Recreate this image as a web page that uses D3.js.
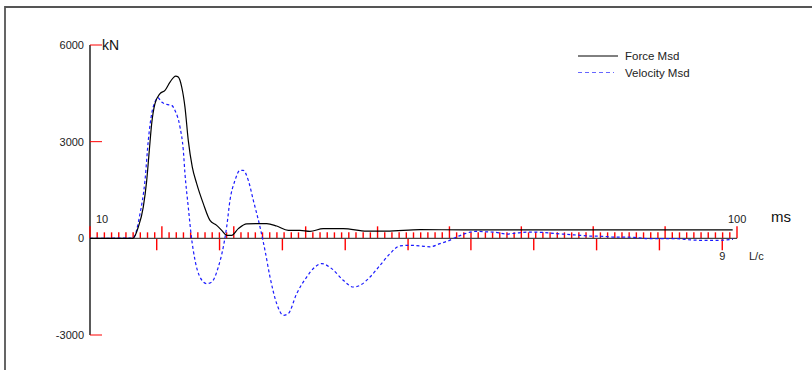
<!DOCTYPE html>
<html>
<head>
<meta charset="utf-8">
<script src="https://cdn.jsdelivr.net/npm/d3@7"></script>
<style>
	body { margin: 0; background: #fff; }
	svg { display: block; font-family: Arial, "Liberation Sans", sans-serif; }
	.lbl { font-size: 11px; fill: #222; }
</style>
</head>
<body>
<svg id="chart" width="812" height="370"></svg>
<script>
// time in ms, force / velocity in kN (velocity scaled to force units)
let force_t = [10, 15.98, 16.72, 17.41, 17.89, 18.25, 18.58, 19.04, 19.74, 20.43, 21.13, 21.92, 22.28, 22.76,
	23.21, 23.67, 24.23, 24.84, 25.76, 26.69, 27.62, 28.32, 29.02, 29.71, 30.63, 31.8, 34.58, 35.97,
	37.58, 39.21, 40.6, 42.45, 45.23, 48.49, 51.27, 55.9, 62, 70, 80, 90, 99.4];
let force_v = [0, 0, 351, 971, 1800, 2730, 3559, 4179, 4490, 4592, 4850, 5036, 5005, 4694,
	4074, 3041, 2212, 1697, 1077, 558, 403, 248, 93, 93, 301, 450, 456, 382,
	248, 248, 217, 301, 301, 226, 226, 270, 262, 265, 262, 260, 262];

let vel_t = [10, 15.98, 16.96, 17.65, 18.11, 18.58, 19.04, 19.42, 19.97, 20.67, 21.36, 21.82, 22.52, 22.98,
	23.21, 23.67, 24.1, 24.61, 25.3, 26.23, 26.93, 27.85, 28.54, 29.01, 29.47, 30.17, 30.87, 31.32,
	32.02, 32.72, 33.65, 34.34, 35.04, 35.97, 36.89, 37.58, 38.75, 40.14, 41.3, 42.23, 43.62, 45.23,
	46.63, 47.56, 48.95, 50.34, 51.73, 53.12, 54.51, 55.9, 57.3, 58.69, 59.84, 61.01, 62.16, 63.79,
	65.08, 66.48, 67.96, 69.26, 71.2, 72.73, 74.92, 76.31, 78.16, 79.55, 81.36, 82.75, 84.42, 86.05,
	87.9, 89.71, 91.61, 93, 95.31, 97.17, 99.02, 99.44];
let vel_v = [0, 10, 766, 1800, 3041, 3869, 4229, 4366, 4229, 4158, 4127, 3971, 3453, 2730,
	2007, 971, 50, -683, -1201, -1406, -1356, -890, -270, 351, 1179, 1800, 2110, 2110,
	1800, 1179, 351, -372, -1201, -2026, -2389, -2336, -1716, -1201, -890, -785, -940, -1303,
	-1511, -1458, -1201, -838, -475, -233, -217, -233, -264, -164, -78, 40, 146, 217,
	202, 186, 133, 164, 195, 186, 146, 124, 93, 71, 62, 40, 40, 22,
	-9, -9, -9, -40, -62, -62, -40, -31];

let y_ticks = [6000, 3000, 0, -3000];
let ms_labels = [10, 100];
let lc_start = 19.28, lc_end = 97.95, lc_count = 9;
let legend_names = ['Force Msd', 'Velocity Msd'];

let svg = d3.select('#chart');

let x = d3.scaleLinear().domain([10, 100]).range([90, 737]);
let y = d3.scaleLinear().domain([-3000, 6000]).range([335, 45]);
let lc = d3.scaleLinear().domain([0, lc_count]).range([x(lc_start), x(lc_end)]);

// frame (top + left)
svg.append('path')
	.attr('d', 'M5,370 V7 H812')
	.attr('fill', 'none')
	.attr('stroke', '#555')
	.attr('stroke-width', 1.8);

// y axis
svg.append('line')
	.attr('x1', x(10)).attr('x2', x(10))
	.attr('y1', y(-3000)).attr('y2', y(6000))
	.attr('stroke', '#000')
	.attr('stroke-width', 1.3);

svg.selectAll('.ytick').data(y_ticks.filter(d => d != 0))
	.enter().append('line')
	.attr('class', 'ytick')
	.attr('x1', x(10)).attr('x2', x(10) + 12)
	.attr('y1', d => y(d)).attr('y2', d => y(d))
	.attr('stroke', '#f00')
	.attr('stroke-width', 1);

svg.selectAll('.ylbl').data(y_ticks)
	.enter().append('text')
	.attr('class', 'lbl')
	.attr('x', 84)
	.attr('y', d => y(d) + 4)
	.attr('text-anchor', 'end')
	.text(d => d);

svg.append('text')
	.attr('x', 102).attr('y', 50)
	.style('font-size', '14px')
	.style('fill', '#111')
	.text('kN');

// time ticks (1 ms minor, 10 ms major) pointing up
let ms_ticks = d3.range(10, 101);
svg.selectAll('.xtick').data(ms_ticks)
	.enter().append('line')
	.attr('class', 'xtick')
	.attr('x1', d => x(d)).attr('x2', d => x(d))
	.attr('y1', y(0))
	.attr('y2', d => y(0) - (d % 10 == 0 ? 12 : 6))
	.attr('stroke', '#f00')
	.attr('stroke-width', 1.4);

// L/c ticks pointing down
svg.selectAll('.lctick').data(d3.range(0, lc_count + 1))
	.enter().append('line')
	.attr('class', 'lctick')
	.attr('x1', d => lc(d)).attr('x2', d => lc(d))
	.attr('y1', y(0)).attr('y2', y(0) + 12)
	.attr('stroke', '#f00')
	.attr('stroke-width', 1.4);

// baseline
svg.append('line')
	.attr('x1', x(10)).attr('x2', x(100))
	.attr('y1', y(0)).attr('y2', y(0))
	.attr('stroke', '#444')
	.attr('stroke-width', 1.3);

svg.selectAll('.mslbl').data(ms_labels)
	.enter().append('text')
	.attr('class', 'lbl')
	.attr('x', d => d == 10 ? x(d) + 6 : x(d) - 9)
	.attr('y', 223)
	.text(d => d);

svg.append('text')
	.attr('x', 771).attr('y', 222)
	.style('font-size', '15px')
	.style('fill', '#111')
	.text('ms');

svg.append('text')
	.attr('class', 'lbl')
	.attr('x', lc(lc_count) - 3).attr('y', 260)
	.text(lc_count);

svg.append('text')
	.attr('class', 'lbl')
	.attr('x', 749).attr('y', 260)
	.text('L/c');

// traces
let line = d3.line()
	.x(d => x(d[0]))
	.y(d => y(d[1]))
	.curve(d3.curveMonotoneX);

svg.append('path')
	.attr('d', line(d3.zip(vel_t, vel_v)))
	.attr('fill', 'none')
	.attr('stroke', '#1a1aff')
	.attr('stroke-width', 1.2)
	.attr('stroke-dasharray', '3,2.5');

svg.append('path')
	.attr('d', line(d3.zip(force_t, force_v)))
	.attr('fill', 'none')
	.attr('stroke', '#000')
	.attr('stroke-width', 1.2);

// legend
let leg = svg.append('g').attr('transform', 'translate(578, 56)');
leg.selectAll('line').data(legend_names)
	.enter().append('line')
	.attr('x1', 0).attr('x2', (d, i) => i == 0 ? 40 : 36)
	.attr('y1', (d, i) => i * 16.5).attr('y2', (d, i) => i * 16.5)
	.attr('stroke', (d, i) => i == 0 ? '#000' : '#6666ff')
	.attr('stroke-width', 1)
	.attr('stroke-dasharray', (d, i) => i == 0 ? null : '4,3');
leg.selectAll('text').data(legend_names)
	.enter().append('text')
	.attr('x', 47)
	.attr('y', (d, i) => i * 16.5 + 4)
	.style('font-size', '11.5px')
	.style('fill', '#222')
	.text(d => d);
</script>
</body>
</html>
